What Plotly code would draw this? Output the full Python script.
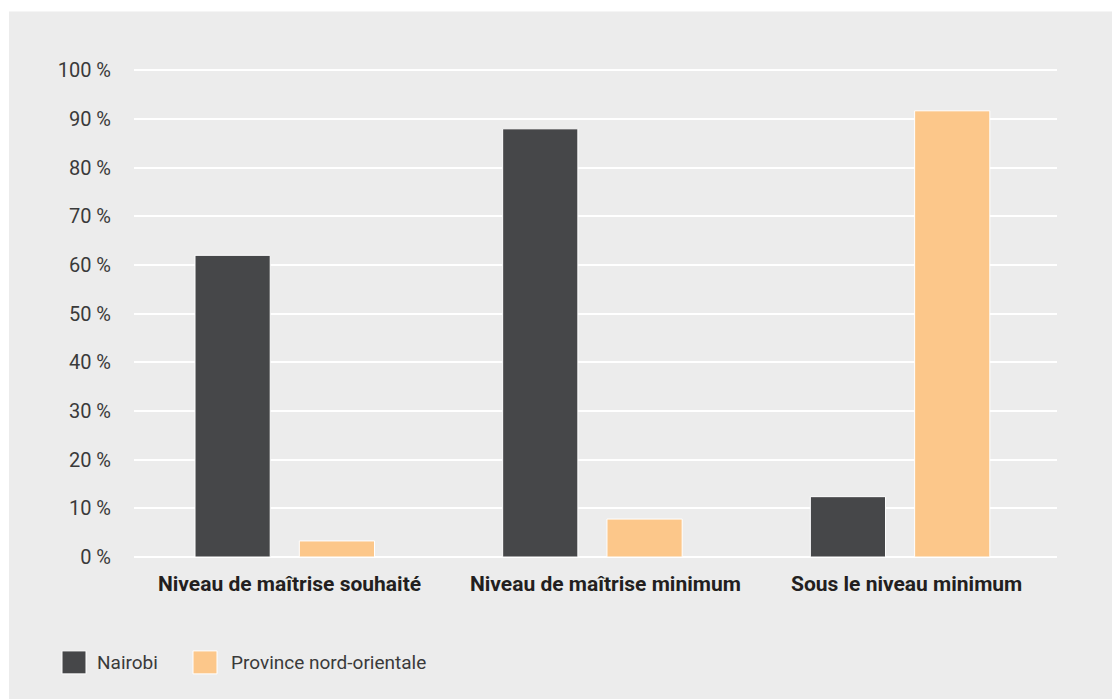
import plotly.graph_objects as go

categories = ["Niveau de maîtrise souhaité", "Niveau de maîtrise minimum", "Sous le niveau minimum"]
series_names = ["Nairobi", "Province nord-orientale"]
nairobi = [62, 88, 12.4]
province = [3.3, 7.8, 91.7]
tick_vals = [0, 10, 20, 30, 40, 50, 60, 70, 80, 90, 100]
tick_text = [f"{v} %" for v in tick_vals]

colors = ["#464749", "#fcc78a"]
BG = "#ececec"
FONT = "Roboto, sans-serif"
TXT = "#231f20"

W, H = 1112, 699
L, R, T, B = 134, 55, 67.5, 142
pw, ph = W - L - R, H - T - B

def px_x(px):
    return (px - L) / pw

def px_y(py):
    return (H - B - py) / ph

fig = go.Figure()
for name, vals, col in zip(series_names, [nairobi, province], colors):
    fig.add_trace(go.Bar(x=categories, y=vals, name=name,
                         marker=dict(color=col, line=dict(color="white", width=1)),
                         showlegend=False))

shapes = [dict(type="rect", xref="paper", yref="paper",
               x0=px_x(9), x1=px_x(W + 5), y0=px_y(11), y1=px_y(H + 5),
               fillcolor=BG, line=dict(width=0), layer="below")]
annotations = []
leg_sq_x = [62, 193]
leg_txt_x = [95, 229]
for i, name in enumerate(series_names):
    shapes.append(dict(type="rect", xref="paper", yref="paper",
                       x0=px_x(leg_sq_x[i]), x1=px_x(leg_sq_x[i] + 24),
                       y0=px_y(651), y1=px_y(674),
                       fillcolor=colors[i], line=dict(color="white", width=1)))
    annotations.append(dict(xref="paper", yref="paper", x=px_x(leg_txt_x[i]), y=px_y(662.5),
                            xanchor="left", yanchor="middle", showarrow=False,
                            text=name, font=dict(family=FONT, size=19, color="#3a3a3a")))

label_shift = [5, 13, 6.5]
for cat, sh in zip(categories, label_shift):
    annotations.append(dict(xref="x", yref="paper", x=cat, y=px_y(584.5), xshift=sh,
                            xanchor="center", yanchor="middle", showarrow=False,
                            text=f"<b>{cat}</b>",
                            font=dict(family=FONT, size=21, color=TXT)))

fig.update_layout(
    width=W, height=H,
    margin=dict(l=L, r=R, t=T, b=B, pad=0),
    paper_bgcolor="white", plot_bgcolor=BG,
    barmode="group", bargap=0.322, bargroupgap=0.279,
    shapes=shapes, annotations=annotations,
    xaxis=dict(range=[-0.49, 2.51], showgrid=False, zeroline=False, showline=False,
               ticks="", showticklabels=False),
    yaxis=dict(range=[0, 100.5], tickvals=tick_vals, ticktext=tick_text,
               showgrid=True, gridcolor="white", gridwidth=1.5,
               zeroline=True, zerolinecolor="white", zerolinewidth=1.5,
               showline=False, ticks="", ticklabelstandoff=22,
               tickfont=dict(family=FONT, size=20, color="#3a3a3a")),
)

fig.write_html("out.html", config={"displayModeBar": False},
               post_script="document.body.style.margin='0';document.body.style.overflow='hidden';")
